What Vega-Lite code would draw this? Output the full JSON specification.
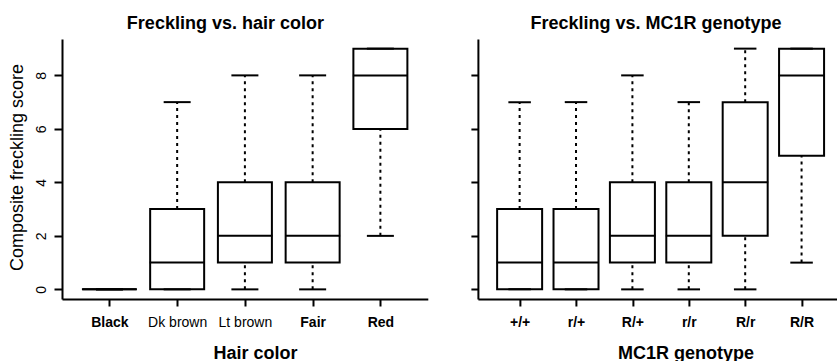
{
  "$schema": "https://vega.github.io/schema/vega-lite/v6.json",
  "padding": {"left": 8, "top": 15, "right": 0, "bottom": 0},
  "spacing": 49.9,
  "bounds": "flush",
  "datasets": {
    "hair": [
      {"hair": "Black", "min": 0, "q1": 0, "med": 0, "q3": 0, "max": 0},
      {"hair": "Dk brown", "min": 0, "q1": 0, "med": 1, "q3": 3, "max": 7},
      {"hair": "Lt brown", "min": 0, "q1": 1, "med": 2, "q3": 4, "max": 8},
      {"hair": "Fair", "min": 0, "q1": 1, "med": 2, "q3": 4, "max": 8},
      {"hair": "Red", "min": 2, "q1": 6, "med": 8, "q3": 9, "max": 9}
    ],
    "geno": [
      {"genotype": "+/+", "min": 0, "q1": 0, "med": 1, "q3": 3, "max": 7},
      {"genotype": "r/+", "min": 0, "q1": 0, "med": 1, "q3": 3, "max": 7},
      {"genotype": "R/+", "min": 0, "q1": 1, "med": 2, "q3": 4, "max": 8},
      {"genotype": "r/r", "min": 0, "q1": 1, "med": 2, "q3": 4, "max": 7},
      {"genotype": "R/r", "min": 0, "q1": 2, "med": 4, "q3": 7, "max": 9},
      {"genotype": "R/R", "min": 1, "q1": 5, "med": 8, "q3": 9, "max": 9}
    ]
  },
  "hconcat": [
    {
      "width": 365.8,
      "height": 260,
      "title": {"text": "Freckling vs. hair color", "frame": "group", "anchor": "middle", "dx": -19.5, "fontSize": 18, "fontWeight": "bold", "baseline": "alphabetic", "offset": -8},
      "data": {"name": "hair"},
      "encoding": {
        "x": {
          "field": "hair", "type": "nominal", "sort": null,
          "scale": {"type": "point", "padding": 0.7},
          "axis": {
            "title": "Hair color", "titleFontWeight": "bold", "titleX": 193, "titleY": 59, "titleBaseline": "alphabetic", "titleAlign": "center",
            "labelAngle": 0, "tickSize": 7, "labelBaseline": "alphabetic", "labelPadding": 20,
            "labelFontWeight": {"condition": {"test": "indexof(['Black','Fair','Red'], datum.value) >= 0", "value": "bold"}, "value": "normal"}
          }
        }
      },
      "layer": [
        {
          "mark": {"type": "rule", "strokeDash": [3, 4], "strokeWidth": 2, "color": "black", "opacity": 1},
          "encoding": {
            "y": {"field": "min", "type": "quantitative", "scale": {"domain": [-0.36, 9.36], "nice": false, "zero": false},
              "axis": {"values": [0, 2, 4, 6, 8], "tickSize": 8, "labelAngle": -90, "labelAlign": "center", "labelBaseline": "alphabetic", "labelPadding": 9,
                "title": "Composite freckling score", "titleAngle": -90, "titleX": -44.6, "titleY": 128, "titleBaseline": "middle", "titleAlign": "center", "titleFontWeight": "normal"}},
            "y2": {"field": "q1"}
          }
        },
        {
          "mark": {"type": "rule", "strokeDash": [3, 4], "strokeWidth": 2, "color": "black", "opacity": 1},
          "encoding": {
            "y": {"field": "q3", "type": "quantitative", "title": "Composite freckling score"},
            "y2": {"field": "max"}
          }
        },
        {
          "mark": {"type": "bar", "fill": "white", "stroke": "black", "strokeWidth": 2, "width": 54, "opacity": 1},
          "encoding": {
            "y": {"field": "q1", "type": "quantitative", "title": "Composite freckling score"},
            "y2": {"field": "q3"}
          }
        },
        {
          "mark": {"type": "tick", "color": "black", "size": 27, "thickness": 2, "opacity": 1},
          "encoding": {"y": {"field": "min", "type": "quantitative", "title": "Composite freckling score"}}
        },
        {
          "mark": {"type": "tick", "color": "black", "size": 27, "thickness": 2, "opacity": 1},
          "encoding": {"y": {"field": "max", "type": "quantitative", "title": "Composite freckling score"}}
        },
        {
          "mark": {"type": "tick", "color": "black", "size": 55, "thickness": 2, "opacity": 1},
          "encoding": {"y": {"field": "med", "type": "quantitative", "title": "Composite freckling score"}}
        }
      ]
    },
    {
      "width": 365.4,
      "height": 260,
      "title": {"text": "Freckling vs. MC1R genotype", "frame": "group", "anchor": "middle", "dx": -4.5, "fontSize": 18, "fontWeight": "bold", "baseline": "alphabetic", "offset": -8},
      "data": {"name": "geno"},
      "encoding": {
        "x": {
          "field": "genotype", "type": "nominal", "sort": null,
          "scale": {"type": "point", "padding": 0.74},
          "axis": {
            "title": "MC1R genotype", "titleFontWeight": "bold", "titleX": 207.5, "titleY": 59, "titleBaseline": "alphabetic", "titleAlign": "center",
            "labelAngle": 0, "tickSize": 7, "labelBaseline": "alphabetic", "labelPadding": 20, "labelFontWeight": "bold"
          }
        }
      },
      "layer": [
        {
          "mark": {"type": "rule", "strokeDash": [3, 4], "strokeWidth": 2, "color": "black", "opacity": 1},
          "encoding": {
            "y": {"field": "min", "type": "quantitative", "scale": {"domain": [-0.36, 9.36], "nice": false, "zero": false},
              "axis": {"values": [0, 2, 4, 6, 8], "tickSize": 7, "labels": false, "title": null}},
            "y2": {"field": "q1"}
          }
        },
        {
          "mark": {"type": "rule", "strokeDash": [3, 4], "strokeWidth": 2, "color": "black", "opacity": 1},
          "encoding": {
            "y": {"field": "q3", "type": "quantitative", "title": null},
            "y2": {"field": "max"}
          }
        },
        {
          "mark": {"type": "bar", "fill": "white", "stroke": "black", "strokeWidth": 2, "width": 45, "opacity": 1},
          "encoding": {
            "y": {"field": "q1", "type": "quantitative", "title": null},
            "y2": {"field": "q3"}
          }
        },
        {
          "mark": {"type": "tick", "color": "black", "size": 22.5, "thickness": 2, "opacity": 1},
          "encoding": {"y": {"field": "min", "type": "quantitative", "title": null}}
        },
        {
          "mark": {"type": "tick", "color": "black", "size": 22.5, "thickness": 2, "opacity": 1},
          "encoding": {"y": {"field": "max", "type": "quantitative", "title": null}}
        },
        {
          "mark": {"type": "tick", "color": "black", "size": 46, "thickness": 2, "opacity": 1},
          "encoding": {"y": {"field": "med", "type": "quantitative", "title": null}}
        }
      ]
    }
  ],
  "config": {
    "font": "Liberation Sans",
    "view": {"stroke": null},
    "title": {"color": "black"},
    "axis": {
      "grid": false, "domainColor": "black", "domainWidth": 2, "tickColor": "black", "tickWidth": 2,
      "labelColor": "black", "titleColor": "black", "labelFontSize": 14, "titleFontSize": 18, "labelFont": "Liberation Sans", "titleFont": "Liberation Sans"
    }
  }
}
